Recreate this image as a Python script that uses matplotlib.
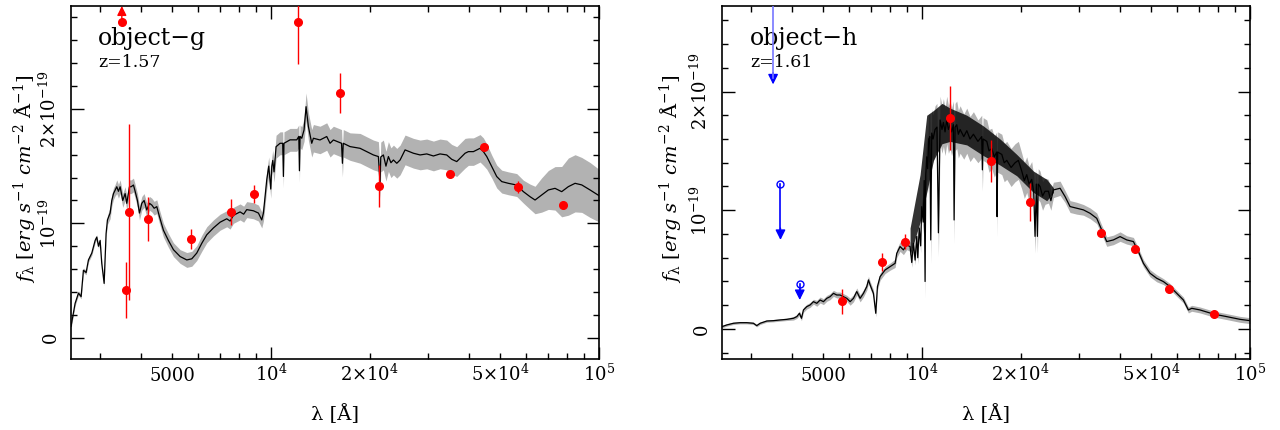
import numpy as np
import matplotlib
matplotlib.use("Agg")
import matplotlib.pyplot as plt
from matplotlib.ticker import FixedLocator, FixedFormatter, FuncFormatter, MultipleLocator

plt.rcParams["font.family"] = "DejaVu Serif"
plt.rcParams["mathtext.fontset"] = "dejavuserif"

# flux values in units of 1e-19 erg/s/cm2/A, wavelengths in Angstrom

# ---------------- object-g ----------------
lam_g = [2455, 2526, 2586, 2635, 2678, 2729, 2774, 2840, 2907, 2941,
         2976, 3011, 3046, 3097, 3140, 3170, 3230, 3268, 3307, 3346,
         3385, 3425, 3465, 3530, 3589, 3631, 3700, 3743, 3805, 3850,
         3913, 3969, 4035, 4101, 4178, 4258, 4328, 4400, 4482, 4566,
         4696, 4864, 5038, 5280, 5534, 5731, 5934, 6146, 6366, 6671,
         6991, 7325, 7500, 7676, 8043, 8250, 8428, 8833, 9149, 9366,
         9476, 9587, 9700, 9837, 9977, 10050, 10118, 10212, 10356, 10650,
         10850, 10903, 10950, 11426, 11976, 12150, 12202, 12260, 12403, 12605,
         12784, 12995, 13304, 13460, 14100, 14780, 15130, 15490, 16400, 16500,
         16600, 17410, 18680, 19570, 20510, 21240, 21490, 21600, 22000, 22400,
         22790, 23200, 23610, 24170, 24740, 25620, 27160, 28470, 29830, 31260,
         32750, 34320, 35540, 36820, 38130, 39040, 39960, 41390, 43370, 44400,
         45460, 47090, 48760, 50500, 52910, 56100, 58800, 61610, 63810, 66860,
         70060, 73420, 76930, 80630, 84510, 88560, 93880, 100000]
flux_g = [0.10, 0.30, 0.39, 0.36, 0.59, 0.57, 0.68, 0.74, 0.85, 0.88,
          0.80, 0.85, 0.65, 0.475, 0.91, 1.03, 1.09, 1.20, 1.26, 1.29,
          1.32, 1.28, 1.32, 1.20, 1.26, 1.175, 1.32, 1.32, 1.335, 1.28,
          1.20, 1.09, 1.175, 1.20, 1.117, 1.175, 1.16, 1.132, 1.146, 1.06,
          0.94, 0.85, 0.77, 0.71, 0.68, 0.69, 0.74, 0.825, 0.90, 0.96,
          1.01, 1.04, 1.02, 1.07, 1.10, 1.08, 1.12, 1.11, 1.09, 1.03,
          1.09, 1.23, 1.38, 1.50, 1.30, 1.50, 1.55, 1.45, 1.67, 1.70,
          1.70, 1.41, 1.70, 1.73, 1.73, 1.76, 1.46, 1.76, 1.744, 1.817,
          2.02, 1.846, 1.70, 1.744, 1.729, 1.759, 1.70, 1.729, 1.70, 1.525,
          1.70, 1.671, 1.656, 1.627, 1.598, 1.584, 1.35, 1.58, 1.598, 1.50,
          1.584, 1.53, 1.554, 1.525, 1.554, 1.642, 1.613, 1.598, 1.607, 1.589,
          1.607, 1.598, 1.560, 1.540, 1.584, 1.613, 1.627, 1.627, 1.656, 1.627,
          1.584, 1.496, 1.409, 1.365, 1.350, 1.335, 1.277, 1.233, 1.204, 1.248,
          1.292, 1.306, 1.277, 1.321, 1.350, 1.336, 1.292, 1.242]
band_g = [0.02, 0.02, 0.02, 0.02, 0.02, 0.02, 0.02, 0.02, 0.02, 0.02,
          0.02, 0.02, 0.02, 0.02, 0.03, 0.04, 0.05, 0.05, 0.05, 0.05,
          0.06, 0.06, 0.06, 0.06, 0.06, 0.06, 0.06, 0.06, 0.06, 0.06,
          0.06, 0.06, 0.06, 0.06, 0.06, 0.06, 0.06, 0.06, 0.06, 0.06,
          0.06, 0.06, 0.06, 0.06, 0.065, 0.065, 0.065, 0.07, 0.07, 0.07,
          0.07, 0.07, 0.07, 0.07, 0.07, 0.07, 0.07, 0.07, 0.07, 0.07,
          0.07, 0.07, 0.08, 0.08, 0.08, 0.08, 0.09, 0.09, 0.10, 0.10,
          0.10, 0.10, 0.10, 0.10, 0.10, 0.10, 0.10, 0.10, 0.10, 0.10,
          0.12, 0.12, 0.12, 0.12, 0.12, 0.12, 0.12, 0.12, 0.12, 0.12,
          0.12, 0.12, 0.13, 0.13, 0.13, 0.13, 0.13, 0.13, 0.13, 0.13,
          0.13, 0.13, 0.13, 0.13, 0.13, 0.13, 0.13, 0.13, 0.13, 0.13,
          0.13, 0.13, 0.13, 0.13, 0.13, 0.13, 0.12, 0.12, 0.12, 0.12,
          0.11, 0.10, 0.10, 0.10, 0.10, 0.10, 0.10, 0.11, 0.12, 0.15,
          0.17, 0.19, 0.22, 0.25, 0.25, 0.24, 0.24, 0.23]

phot_lam_g = [3600, 3700, 4220, 5710, 7550, 8870, 12110, 16220, 21380, 35130, 44480, 56760, 77600]
phot_flux_g = [0.417, 1.10, 1.036, 0.863, 1.10, 1.255, 2.76, 2.14, 1.327, 1.43, 1.666, 1.318, 1.158]
phot_err_g = [0.245, 0.77, 0.19, 0.09, 0.115, 0.08, 0.37, 0.175, 0.18, 0.0, 0.0, 0.05, 0.0]
lolim_lam_g = [3507]
lolim_flux_g = [2.76]

# ---------------- object-h ----------------
lam_h = [2456, 2538, 2659, 2787, 2920, 3060, 3132, 3207, 3361, 3522,
         3691, 3868, 4053, 4149, 4227, 4287, 4347, 4450, 4555, 4664,
         4774, 4887, 5003, 5121, 5242, 5367, 5493, 5623, 5757, 5893,
         6033, 6176, 6322, 6472, 6625, 6782, 6862, 6943, 7106, 7224,
         7309, 7447, 7713, 7988, 8274, 8371, 8569, 8771, 8980, 9191,
         9300, 9410, 9520, 9632, 9700, 9800, 9900, 9977, 10080, 10150,
         10212, 10261, 10332, 10400, 10478, 10560, 10626, 10702, 10800, 10954,
         11100, 11214, 11347, 11500, 11614, 11750, 11890, 12030, 12172, 12300,
         12460, 12520, 12605, 12755, 12900, 13060, 13400, 13690, 14000, 14340,
         14800, 15200, 15270, 15350, 15750, 16000, 16310, 16600, 16890, 16930,
         17000, 17500, 17800, 18120, 18680, 19210, 19660, 20130, 20500, 20850,
         21200, 21590, 21900, 22100, 22300, 22470, 22600, 22890, 23300, 23710,
         24280, 24700, 25140, 26350, 27290, 28260, 29620, 31040, 32530, 34080,
         35300, 36560, 38310, 40150, 42070, 44090, 45660, 47300, 49560, 51930,
         54430, 57030, 59760, 62630, 64860, 66410, 70390, 77300, 84890, 93220, 100000]
flux_h = [0.020, 0.034, 0.048, 0.053, 0.053, 0.048, 0.028, 0.048, 0.067, 0.070,
          0.076, 0.081, 0.090, 0.104, 0.132, 0.090, 0.160, 0.188, 0.202, 0.230,
          0.216, 0.244, 0.230, 0.258, 0.272, 0.300, 0.286, 0.286, 0.272, 0.258,
          0.230, 0.258, 0.315, 0.258, 0.300, 0.357, 0.413, 0.371, 0.300, 0.132,
          0.357, 0.441, 0.497, 0.525, 0.553, 0.637, 0.694, 0.666, 0.708, 0.694,
          0.56, 0.722, 0.58, 0.78, 0.60, 0.85, 0.70, 1.03, 0.90, 1.25,
          0.40, 1.30, 1.45, 1.35, 1.60, 1.62, 0.75, 1.65, 1.60, 1.68,
          1.70, 0.81, 1.76, 1.68, 1.74, 1.66, 1.76, 1.68, 1.72, 1.66,
          1.72, 0.918, 1.70, 1.72, 1.64, 1.68, 1.62, 1.67, 1.60, 1.64,
          1.58, 1.62, 1.34, 1.60, 1.58, 1.50, 1.52, 1.45, 1.49, 0.946,
          1.49, 1.47, 1.40, 1.42, 1.36, 1.40, 1.42, 1.33, 1.25, 1.30,
          1.22, 1.26, 1.15, 0.78, 1.22, 0.78, 1.22, 1.20, 1.12, 1.16,
          1.16, 1.08, 1.171, 1.185, 1.115, 1.031, 1.017, 1.003, 0.974, 0.932,
          0.834, 0.736, 0.750, 0.778, 0.750, 0.736, 0.652, 0.553, 0.469, 0.427,
          0.399, 0.357, 0.300, 0.244, 0.160, 0.174, 0.160, 0.126, 0.104, 0.081, 0.070]
band_h = [0.01, 0.01, 0.01, 0.01, 0.01, 0.01, 0.01, 0.01, 0.01, 0.01,
          0.01, 0.01, 0.015, 0.015, 0.02, 0.02, 0.02, 0.02, 0.02, 0.02,
          0.025, 0.025, 0.025, 0.025, 0.025, 0.025, 0.025, 0.025, 0.025, 0.025,
          0.03, 0.03, 0.03, 0.03, 0.03, 0.03, 0.03, 0.03, 0.03, 0.03,
          0.03, 0.03, 0.03, 0.03, 0.035, 0.035, 0.04, 0.04, 0.04, 0.04,
          0.04, 0.04, 0.04, 0.05, 0.05, 0.05, 0.06, 0.08, 0.10, 0.12,
          0.14, 0.16, 0.18, 0.20, 0.20, 0.20, 0.20, 0.20, 0.20, 0.20,
          0.20, 0.20, 0.20, 0.20, 0.20, 0.20, 0.20, 0.20, 0.20, 0.20,
          0.20, 0.20, 0.20, 0.20, 0.20, 0.20, 0.19, 0.19, 0.19, 0.19,
          0.18, 0.18, 0.18, 0.18, 0.18, 0.18, 0.17, 0.17, 0.17, 0.17,
          0.17, 0.17, 0.16, 0.16, 0.16, 0.16, 0.16, 0.15, 0.15, 0.15,
          0.15, 0.15, 0.14, 0.14, 0.14, 0.14, 0.13, 0.13, 0.12, 0.11,
          0.10, 0.08, 0.065, 0.06, 0.05, 0.05, 0.05, 0.045, 0.045, 0.045,
          0.04, 0.04, 0.04, 0.04, 0.035, 0.035, 0.03, 0.03, 0.03, 0.03,
          0.025, 0.025, 0.025, 0.025, 0.025, 0.025, 0.025, 0.025, 0.025, 0.025, 0.025]

# dense absorption forest of the model (black envelope)
forest_lam_h = [9191, 9860, 10332, 10830, 11500, 12172, 13690, 15380, 17290, 19440, 21850, 23990, 25140]
forest_hi_h = [0.85, 1.30, 1.80, 1.84, 1.90, 1.86, 1.80, 1.71, 1.60, 1.47, 1.33, 1.26, 1.19]
forest_lo_h = [0.62, 0.90, 1.15, 1.42, 1.56, 1.58, 1.55, 1.46, 1.38, 1.29, 1.15, 1.08, 1.15]

phot_lam_h = [5718, 7570, 8877, 12142, 16230, 21400, 35130, 44500, 56770, 77660]
phot_flux_h = [0.233, 0.562, 0.736, 1.775, 1.415, 1.067, 0.812, 0.677, 0.340, 0.129]
phot_err_h = [0.104, 0.077, 0.063, 0.27, 0.18, 0.16, 0.0, 0.0, 0.04, 0.0]
uplim_lam_h = [3513, 3700, 4236]
uplim_flux_h = [3.2, 1.224, 0.376]
uplim_tip_h = [2.06, 0.75, 0.244]

xticks_major = [1e4, 1e5]
xticks_minor = [3000, 4000, 5000, 6000, 7000, 8000, 9000,
                2e4, 3e4, 4e4, 5e4, 6e4, 7e4, 8e4, 9e4]
xlabels = {1e4: r"$10^4$", 1e5: r"$10^5$", 5000: "5000",
           2e4: r"$2{\times}10^4$", 5e4: r"$5{\times}10^4$"}
yticks = [0, 1, 2]
ylabels = ["0", r"$10^{-19}$", r"$2{\times}10^{-19}$"]


def style_axes(ax, ylim):
    ax.set_xscale("log")
    ax.set_xlim(2455, 1e5)
    ax.set_ylim(*ylim)
    fmt = FuncFormatter(lambda v, p: xlabels.get(round(v), ""))
    ax.xaxis.set_major_locator(FixedLocator(xticks_major))
    ax.xaxis.set_minor_locator(FixedLocator(xticks_minor))
    ax.xaxis.set_major_formatter(fmt)
    ax.xaxis.set_minor_formatter(fmt)
    ax.yaxis.set_major_locator(FixedLocator(yticks))
    ax.yaxis.set_major_formatter(FixedFormatter(ylabels))
    ax.yaxis.set_minor_locator(MultipleLocator(0.2))
    ax.tick_params(which="both", direction="in", top=True, right=True,
                   width=1.0, labelsize=13)
    ax.tick_params(which="major", length=9)
    ax.tick_params(which="minor", length=4.5)
    ax.tick_params(axis="x", which="both", pad=16)
    ax.tick_params(axis="y", which="major", pad=8, labelrotation=90)
    for lab in ax.get_xticklabels() + ax.get_xticklabels(minor=True):
        lab.set_va("baseline")
    for lab in ax.get_yticklabels():
        lab.set_va("center")
    for s in ax.spines.values():
        s.set_linewidth(1.2)
    ax.set_xlabel("λ [Å]", fontsize=14)
    ax.xaxis.set_label_coords(0.5, -0.128)
    ax.set_ylabel(r"$f_\mathrm{λ}\ [erg\ s^{-1}\ cm^{-2}\ \mathrm{Å}^{-1}]$", fontsize=14)


fig = plt.figure(figsize=(12.8, 4.3), dpi=100)
ax1 = fig.add_axes([0.0555, 0.1651, 0.4125, 0.8209])
ax2 = fig.add_axes([0.5641, 0.1651, 0.4125, 0.8209])

# object-g
fg = np.array(flux_g)
bg = np.array(band_g)
ax1.fill_between(lam_g, fg - bg, fg + bg, color="#b2b2b2", lw=0)
ax1.plot(lam_g, flux_g, color="k", lw=0.9)
ax1.errorbar(phot_lam_g, phot_flux_g, yerr=phot_err_g, fmt="o", color="red",
             ms=5.5, elinewidth=1, capsize=0, zorder=5)
ax1.plot(lolim_lam_g, lolim_flux_g, "o", color="red", ms=5.5, zorder=5)
for x, y in zip(lolim_lam_g, lolim_flux_g):
    ax1.annotate("", xy=(x, 2.9), xytext=(x, y),
                 arrowprops=dict(arrowstyle="-|>", color="red", lw=1,
                                 mutation_scale=14, shrinkA=0, shrinkB=0),
                 annotation_clip=False)
style_axes(ax1, (-0.186, 2.90))
ax1.yaxis.set_label_coords(-0.063, 0.51)
ax1.text(0.051, 0.89, "object\u2212g", transform=ax1.transAxes, fontsize=17, va="baseline")
ax1.text(0.051, 0.828, "z=1.57", transform=ax1.transAxes, fontsize=12.5, va="baseline")

# object-h
fh = np.array(flux_h)
bh = np.array(band_h)
ax2.fill_between(lam_h, fh - bh, fh + bh, color="#b2b2b2", lw=0)
ax2.fill_between(forest_lam_h, forest_lo_h, forest_hi_h, color="k", lw=0, alpha=0.8)
ax2.plot(lam_h, flux_h, color="k", lw=0.9)
ax2.errorbar(phot_lam_h, phot_flux_h, yerr=phot_err_h, fmt="o", color="red",
             ms=5.5, elinewidth=1, capsize=0, zorder=5)
ax2.plot(uplim_lam_h, uplim_flux_h, "o", mfc="none", mec="blue", mew=1, ms=5, zorder=5)
for x, y0, y1 in zip(uplim_lam_h, uplim_flux_h, uplim_tip_h):
    col = "#7777ff" if y0 > 2.72 else "blue"
    ax2.plot([x, x], [y0, y1 + 0.05], color=col, lw=1.2, zorder=5)
    ax2.annotate("", xy=(x, y1), xytext=(x, y1 + 0.1),
                 arrowprops=dict(arrowstyle="-|>", color="blue", lw=1,
                                 mutation_scale=15, shrinkA=0, shrinkB=0))
style_axes(ax2, (-0.253, 2.72))
ax2.yaxis.set_label_coords(-0.072, 0.51)
ax2.text(0.053, 0.89, "object\u2212h", transform=ax2.transAxes, fontsize=17, va="baseline")
ax2.text(0.053, 0.828, "z=1.61", transform=ax2.transAxes, fontsize=12.5, va="baseline")

fig.savefig("out.png", dpi=100)
